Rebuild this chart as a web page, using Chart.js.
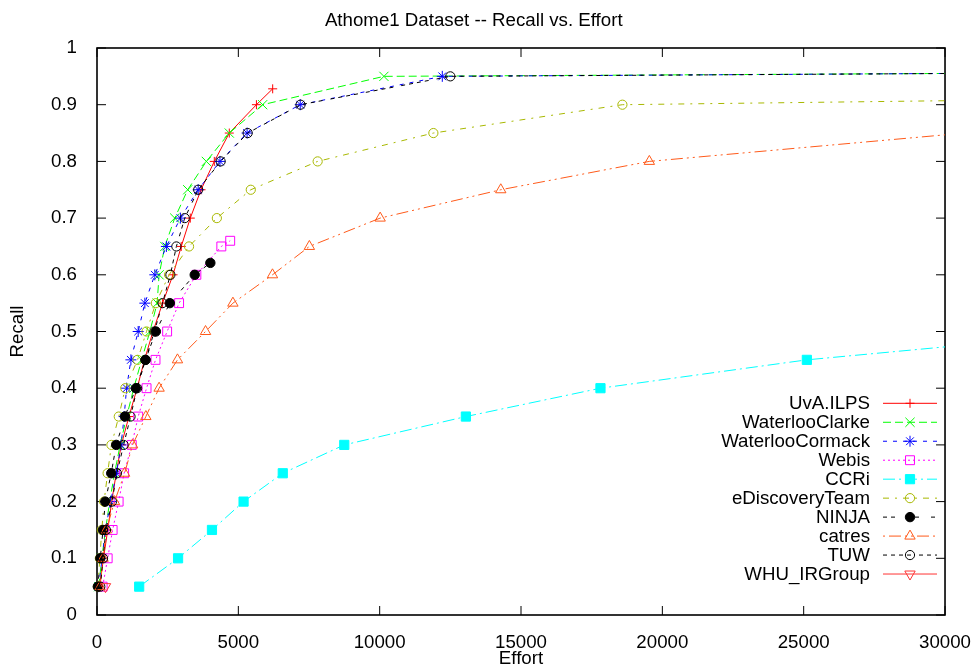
<!DOCTYPE html>
<html><head><meta charset="utf-8">
<script src="https://cdn.jsdelivr.net/npm/chart.js@4/dist/chart.umd.min.js"></script>
<style>html,body{margin:0;padding:0;background:#fff;overflow:hidden}</style>
</head><body>
<canvas id="c" width="980" height="670" style="display:block;width:980px;height:670px"></canvas>
<script>
// ---- data ----
const chartTitle = 'Athome1 Dataset -- Recall vs. Effort';
const xTitle = 'Effort';
const yTitle = 'Recall';
const xTicks = [0, 5000, 10000, 15000, 20000, 25000, 30000];
const xTickLabels = ['0', '5000', '10000', '15000', '20000', '25000', '30000'];
const yTicks = [0, 0.1, 0.2, 0.3, 0.4, 0.5, 0.6, 0.7, 0.8, 0.9, 1];
const yTickLabels = ['0', '0.1', '0.2', '0.3', '0.4', '0.5', '0.6', '0.7', '0.8', '0.9', '1'];

const seriesNames = ['UvA.ILPS', 'WaterlooClarke', 'WaterlooCormack', 'Webis', 'CCRi',
  'eDiscoveryTeam', 'NINJA', 'catres', 'TUW', 'WHU_IRGroup'];

const uvaEffort = [90, 230, 380, 520, 680, 860, 1130, 1420, 1680, 1980, 2320, 2690, 2980, 3300, 3680, 4150, 4680, 5640, 6215];
const uvaRecall = [0.05, 0.1, 0.15, 0.2, 0.25, 0.3, 0.35, 0.4, 0.45, 0.5, 0.55, 0.6, 0.65, 0.7, 0.75, 0.8, 0.85, 0.9, 0.928];

const clarkeEffort = [60, 170, 300, 450, 620, 820, 1050, 1300, 1580, 1870, 2127, 2197, 2398, 2751, 3210, 3868, 4680, 5860, 10150, 100000];
const clarkeRecall = [0.05, 0.1, 0.15, 0.2, 0.25, 0.3, 0.35, 0.4, 0.45, 0.5, 0.55, 0.6, 0.65, 0.7, 0.75, 0.8, 0.85, 0.9, 0.95, 0.973];

const cormackEffort = [60, 180, 300, 480, 690, 850, 960, 1047, 1199, 1457, 1693, 2046, 2455, 2950, 3580, 4350, 5310, 7190, 12215, 100000];
const cormackRecall = [0.05, 0.1, 0.15, 0.2, 0.25, 0.3, 0.35, 0.4, 0.45, 0.5, 0.55, 0.6, 0.65, 0.7, 0.75, 0.8, 0.85, 0.9, 0.95, 0.975];

const webisEffort = [200, 377, 553, 765, 960, 1230, 1457, 1753, 2070, 2481, 2904, 3515, 4398, 4712];
const webisRecall = [0.05, 0.1, 0.15, 0.2, 0.25, 0.3, 0.35, 0.4, 0.45, 0.5, 0.55, 0.6, 0.65, 0.66];

const ccriEffort = [1492, 2868, 4067, 5185, 6572, 8747, 13050, 17811, 25112, 35800];
const ccriRecall = [0.05, 0.1, 0.15, 0.2, 0.25, 0.3, 0.35, 0.4, 0.45, 0.5];

const edtEffort = [30, 100, 170, 250, 375, 510, 770, 1000, 1435, 1752, 2081, 2550, 3256, 4240, 5440, 7806, 11900, 18587, 100000];
const edtRecall = [0.05, 0.1, 0.15, 0.2, 0.25, 0.3, 0.35, 0.4, 0.45, 0.5, 0.55, 0.6, 0.65, 0.7, 0.75, 0.8, 0.85, 0.9, 0.95];

const ninjaEffort = [30, 117, 212, 293, 504, 680, 988, 1376, 1716, 2081, 2575, 3457, 4010];
const ninjaRecall = [0.05, 0.1, 0.15, 0.2, 0.25, 0.3, 0.35, 0.4, 0.45, 0.5, 0.55, 0.6, 0.621];

const catresEffort = [110, 215, 330, 620, 977, 1259, 1728, 2197, 2847, 3840, 4808, 6208, 7513, 10017, 14284, 19540, 30700];
const catresRecall = [0.05, 0.1, 0.15, 0.2, 0.25, 0.3, 0.35, 0.4, 0.45, 0.5, 0.55, 0.6, 0.65, 0.7, 0.75, 0.8, 0.85];

const tuwEffort = [117, 212, 317, 529, 705, 942, 1187, 1420, 1716, 2030, 2316, 2596, 2808, 3104, 3580, 4374, 5330, 7200, 12500, 100000];
const tuwRecall = [0.05, 0.1, 0.15, 0.2, 0.25, 0.3, 0.35, 0.4, 0.45, 0.5, 0.55, 0.6, 0.65, 0.7, 0.75, 0.8, 0.85, 0.9, 0.95, 0.975];

const whuEffort = [300];
const whuRecall = [0.05];

// ---- styles ----
const FONT = "'Liberation Sans', Arial, Helvetica, sans-serif";
const FS = 18.7;
const seriesEfforts = [uvaEffort, clarkeEffort, cormackEffort, webisEffort, ccriEffort, edtEffort, ninjaEffort, catresEffort, tuwEffort, whuEffort];
const seriesRecalls = [uvaRecall, clarkeRecall, cormackRecall, webisRecall, ccriRecall, edtRecall, ninjaRecall, catresRecall, tuwRecall, whuRecall];
const seriesColors = ['#ff0000', '#00ff00', '#0000ff', '#ff00ff', '#00ffff', '#a8b800', '#000000', '#ff5a1a', '#000000', '#ff3333'];
const seriesDash = [[], [8, 4], [4, 6], [2, 3], [12, 4, 2, 4], [6, 6, 2, 6], [4, 4, 4, 12], [2, 4, 12, 4, 2, 4], [4, 4, 4, 4, 4, 4, 4, 8], []];
const seriesPoint = ['cross', 'crossRot', 'star', 'rect', 'rect', 'circle', 'circle', 'triangle', 'circle', 'triangle'];
const seriesRadius = [4.5, 6.5, 5.5, 6.3, 6.5, 4.6, 4.7, 6, 4.6, 6];
const seriesFilled = [false, false, false, false, true, false, true, false, false, false];
const seriesRotation = [0, 0, 0, 0, 0, 0, 0, 0, 0, 180];

const datasets = seriesNames.map((name, i) => ({
  label: name,
  data: seriesEfforts[i].map((e, k) => ({x: e, y: seriesRecalls[i][k]})),
  borderColor: seriesColors[i],
  backgroundColor: seriesColors[i],
  borderWidth: 1,
  borderDash: seriesDash[i],
  tension: 0,
  fill: false,
  pointStyle: seriesPoint[i],
  pointRadius: seriesRadius[i],
  pointHoverRadius: seriesRadius[i],
  pointRotation: seriesRotation[i],
  pointBorderWidth: 1,
  pointBorderColor: seriesColors[i],
  pointBackgroundColor: seriesFilled[i] ? seriesColors[i] : 'rgba(0,0,0,0)',
  order: seriesNames.length - i,
  clip: {left: 8, top: 8, right: 0, bottom: 8}
}));

function markerPath(ctx, style, r, x, y, rotDeg) {
  const rad = rotDeg * Math.PI / 180;
  ctx.beginPath();
  if (style === 'circle') {
    ctx.arc(x, y, r, 0, Math.PI * 2);
  } else if (style === 'rect') {
    const s = Math.SQRT1_2 * r;
    ctx.rect(x - s, y - s, 2 * s, 2 * s);
  } else if (style === 'triangle') {
    let a = rad;
    ctx.moveTo(x + Math.sin(a) * r, y - Math.cos(a) * r);
    a += 2 * Math.PI / 3;
    ctx.lineTo(x + Math.sin(a) * r, y - Math.cos(a) * r);
    a += 2 * Math.PI / 3;
    ctx.lineTo(x + Math.sin(a) * r, y - Math.cos(a) * r);
    ctx.closePath();
  } else {
    const crossAt = (a) => {
      const xo = Math.cos(a) * r, yo = Math.sin(a) * r;
      ctx.moveTo(x - xo, y - yo); ctx.lineTo(x + xo, y + yo);
      ctx.moveTo(x + yo, y - xo); ctx.lineTo(x - yo, y + xo);
    };
    if (style === 'cross') crossAt(rad);
    else if (style === 'crossRot') crossAt(rad + Math.PI / 4);
    else { crossAt(rad); crossAt(rad + Math.PI / 4); }
  }
}

const framePlugin = {
  id: 'gnuFrame',
  beforeDatasetsDraw(chart) {
    const {ctx, chartArea: a, scales} = chart;
    ctx.save();
    ctx.strokeStyle = '#000';
    ctx.lineWidth = 1;
    ctx.setLineDash([]);
    const tl = 9;
    ctx.beginPath();
    xTicks.forEach(v => {
      const px = scales.x.getPixelForValue(v);
      ctx.moveTo(px, a.bottom); ctx.lineTo(px, a.bottom - tl);
      ctx.moveTo(px, a.top); ctx.lineTo(px, a.top + tl);
    });
    yTicks.forEach(v => {
      const py = scales.y.getPixelForValue(v);
      ctx.moveTo(a.left, py); ctx.lineTo(a.left + tl, py);
      ctx.moveTo(a.right, py); ctx.lineTo(a.right - tl, py);
    });
    ctx.stroke();
    ctx.lineWidth = 1.6;
    ctx.strokeRect(a.left, a.top, a.right - a.left, a.bottom - a.top);
    ctx.restore();
  },
  afterDatasetsDraw(chart) {
    const {ctx} = chart;
    ctx.save();
    ctx.font = FS + 'px ' + FONT;
    ctx.textAlign = 'right';
    ctx.textBaseline = 'middle';
    chart.data.datasets.forEach((ds, i) => {
      const y = 403.3 + 18.97 * i;
      ctx.fillStyle = '#000';
      ctx.fillText(ds.label, 870, y + 0.5);
      ctx.strokeStyle = ds.borderColor;
      ctx.lineWidth = 1;
      ctx.setLineDash(ds.borderDash);
      ctx.beginPath();
      ctx.moveTo(883, y); ctx.lineTo(937, y);
      ctx.stroke();
      ctx.setLineDash([]);
      markerPath(ctx, ds.pointStyle, ds.pointRadius, 910, y, ds.pointRotation);
      if (ds.pointBackgroundColor !== 'rgba(0,0,0,0)') {
        ctx.fillStyle = ds.pointBackgroundColor;
        ctx.fill();
      }
      ctx.stroke();
    });
    ctx.restore();
  }
};

new Chart(document.getElementById('c'), {
  type: 'line',
  data: {datasets},
  options: {
    responsive: false,
    devicePixelRatio: 1,
    animation: false,
    events: [],
    layout: {padding: {left: 0, right: 32.5, top: 0, bottom: 0}},
    plugins: {
      legend: {display: false},
      tooltip: {enabled: false},
      title: {
        display: true,
        text: chartTitle,
        color: '#000',
        font: {family: FONT, size: FS, weight: 'normal'},
        padding: {top: 9.5, bottom: 16.06}
      }
    },
    scales: {
      x: {
        type: 'linear',
        min: 0, max: 30000,
        grid: {display: false},
        border: {display: false},
        afterBuildTicks: s => { s.ticks = xTicks.map(v => ({value: v})); },
        afterFit: s => { s.height = 55; },
        ticks: {
          color: '#000', padding: 9, maxRotation: 0, autoSkip: false,
          font: {family: FONT, size: FS},
          callback: (v, i) => xTickLabels[i]
        },
        title: {display: true, text: xTitle, color: '#000', font: {family: FONT, size: FS}, padding: {top: 0, bottom: 0}}
      },
      y: {
        type: 'linear',
        min: 0, max: 1,
        grid: {display: false},
        border: {display: false},
        afterBuildTicks: s => { s.ticks = yTicks.map(v => ({value: v})); },
        afterFit: s => { s.width = 97; },
        ticks: {
          color: '#000', padding: 12, autoSkip: false,
          font: {family: FONT, size: FS},
          callback: (v, i) => yTickLabels[i]
        },
        title: {display: true, text: yTitle, color: '#000', font: {family: FONT, size: FS}, padding: {top: 7, bottom: 0}}
      }
    }
  },
  plugins: [framePlugin]
});
</script>
</body></html>
